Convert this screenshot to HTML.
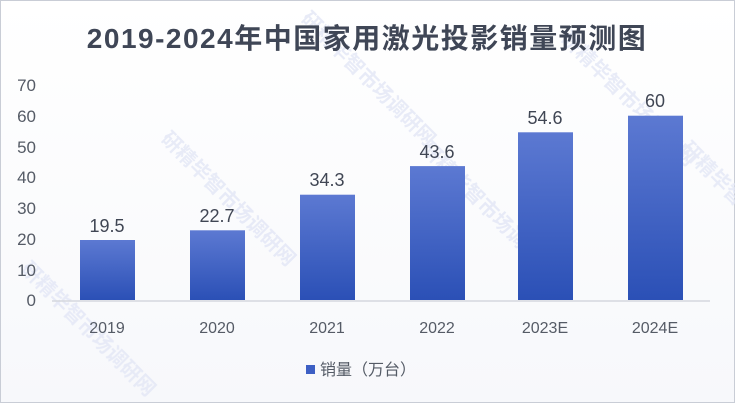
<!DOCTYPE html>
<html><head><meta charset="utf-8"><style>
html,body{margin:0;padding:0;background:#fff}
svg{display:block}
text{font-family:"Liberation Sans","Noto Sans CJK SC",sans-serif}
</style></head><body>
<svg width="735" height="403" viewBox="0 0 735 403" xmlns="http://www.w3.org/2000/svg">
<defs>
<linearGradient id="g" x1="0" y1="0" x2="0" y2="1">
<stop offset="0" stop-color="#5c79d2"/><stop offset="1" stop-color="#2b50b6"/>
</linearGradient>
<linearGradient id="bg" x1="0" y1="0" x2="0" y2="1">
<stop offset="0" stop-color="#ffffff"/><stop offset="1" stop-color="#f7f8fb"/>
</linearGradient>
</defs>
<rect x="0.5" y="0.5" width="734" height="402" fill="url(#bg)" stroke="#c9cdd6"/>
<g fill="#e3e7f6" font-size="20" font-weight="bold" opacity="0.8">
<text transform="translate(160,140) rotate(45)">研精毕智市场调研网</text>
<text transform="translate(420,150) rotate(45)">研精毕智市场调研网</text>
<text transform="translate(560,40) rotate(45)">研精毕智市场调研网</text>
<text transform="translate(20,270) rotate(45)">研精毕智市场调研网</text>
<text transform="translate(300,20) rotate(45)">研精毕智市场调研网</text>
<text transform="translate(680,150) rotate(45)">研精毕智市场调研网</text>
</g>
<text x="367" y="48" text-anchor="middle" font-size="28" font-weight="bold" fill="#3f4656" letter-spacing="1.5">2019-2024年中国家用激光投影销量预测图</text>
<g font-size="17" fill="#555b66" text-anchor="end">
<text x="36" y="306">0</text><text x="36" y="276">10</text><text x="36" y="245">20</text><text x="36" y="214">30</text><text x="36" y="183">40</text><text x="36" y="153">50</text><text x="36" y="122">60</text><text x="36" y="91">70</text>
</g>
<line x1="52" y1="301" x2="710" y2="301" stroke="#d5d8de" stroke-width="1.5"/>
<g fill="url(#g)">
<rect x="80" y="240" width="55" height="60"/>
<rect x="190" y="230.3" width="55" height="69.7"/>
<rect x="300" y="194.7" width="55" height="105.3"/>
<rect x="410" y="166.1" width="55" height="133.9"/>
<rect x="518" y="132.3" width="55" height="167.7"/>
<rect x="628" y="115.7" width="55" height="184.3"/>
</g>
<g font-size="18" fill="#404654" text-anchor="middle">
<text x="107" y="232">19.5</text><text x="217" y="222">22.7</text><text x="327" y="186">34.3</text><text x="437" y="158">43.6</text><text x="545" y="124">54.6</text><text x="655" y="107">60</text>
</g>
<g font-size="16" fill="#555b66" text-anchor="middle">
<text x="107" y="333">2019</text><text x="217" y="333">2020</text><text x="327" y="333">2021</text><text x="437" y="333">2022</text><text x="545" y="333">2023E</text><text x="655" y="333">2024E</text>
</g>
<rect x="306" y="365" width="9" height="9" fill="#3d5fc4"/>
<text x="320" y="375" font-size="16" fill="#555b66">销量（万台）</text>
</svg>
</body></html>
